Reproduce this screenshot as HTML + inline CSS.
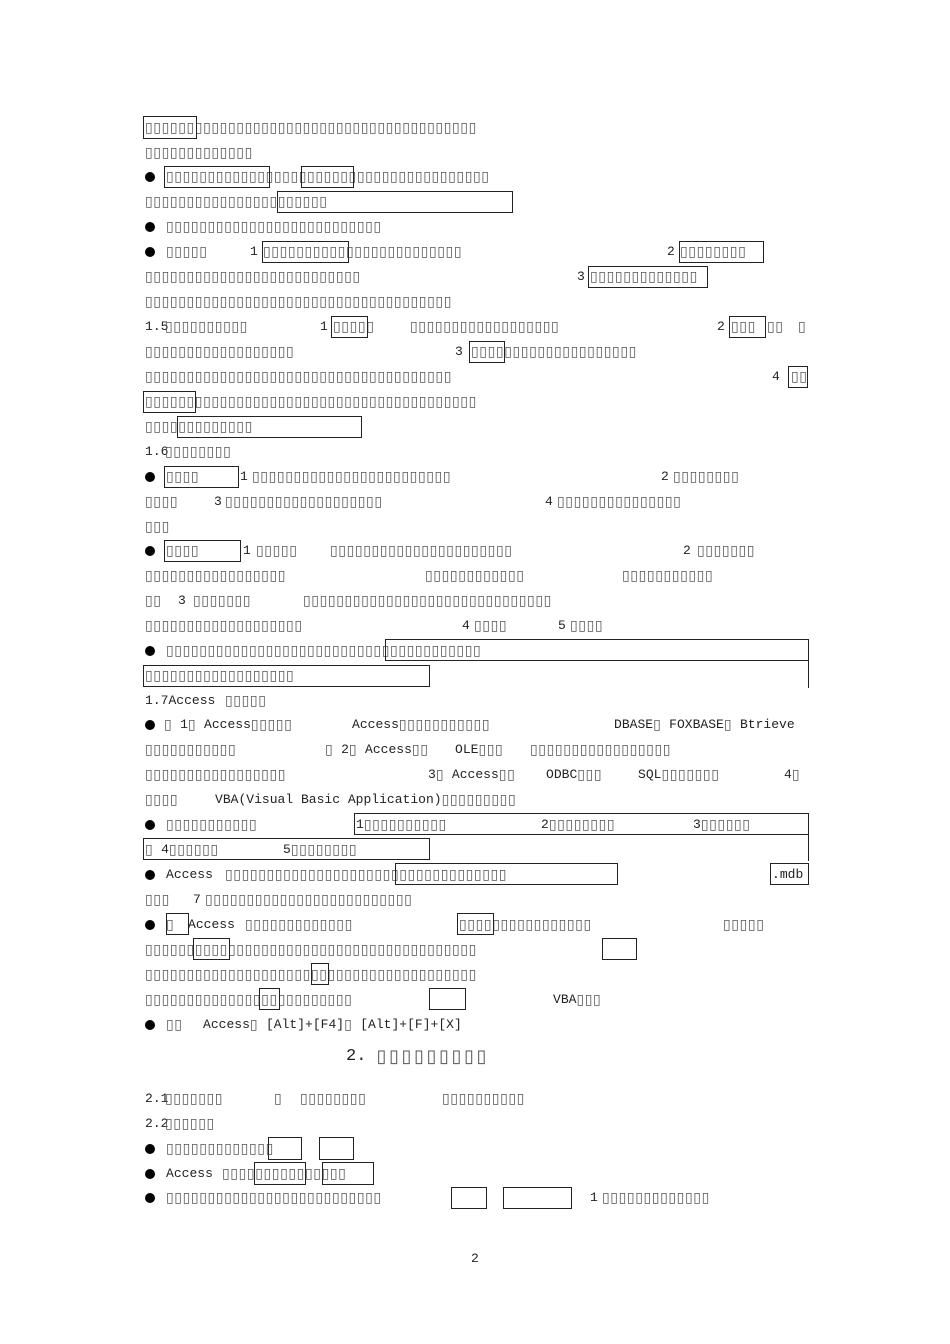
<!DOCTYPE html>
<html><head><meta charset="utf-8">
<style>
html,body{margin:0;padding:0;background:#fff}
#pg{position:relative;width:950px;height:1344px;overflow:hidden;background:#fff}
.l{position:absolute;white-space:nowrap;font-family:"Liberation Mono",monospace;font-size:13px;letter-spacing:0;color:#222;line-height:16px;height:16px}
.t{display:inline-block;width:8.3px;letter-spacing:0;font-family:"DejaVu Sans",sans-serif;font-size:14px;color:#555;text-align:left;overflow:hidden;vertical-align:top;line-height:16px}
.h{font-size:17px}
.h .t{width:12.5px;font-size:18px}
.r{position:absolute;border:1px solid #222;box-sizing:border-box}
.b{position:absolute;width:10px;height:10px;border-radius:50%;background:#000}
</style></head><body><div id="pg"></div>
<script>
var P=document.getElementById('pg');
function tofu(x1,x2,p){p=p||8.3;var n=Math.floor((x2-x1)/p)+1;return '#'.repeat(n);}
function S(x,y,s,cls){var d=document.createElement('div');d.className='l'+(cls?' '+cls:'');d.style.left=x+'px';d.style.top=(y-8)+'px';
 for(var i=0;i<s.length;i++){var c=s[i];if(c=='#'){var sp=document.createElement('span');sp.className='t';sp.textContent='\u25AF';d.appendChild(sp);}else d.appendChild(document.createTextNode(c));}
 P.appendChild(d);}
function T(x1,x2,y){S(x1,y,tofu(x1,x2));}
function R(x1,y1,x2,y2){var d=document.createElement('div');d.className='r';d.style.left=x1+'px';d.style.top=y1+'px';d.style.width=(x2-x1)+'px';d.style.height=(y2-y1)+'px';P.appendChild(d);}
function B(y){var d=document.createElement('div');d.className='b';d.style.left='145px';d.style.top=(y-5)+'px';P.appendChild(d);}
function V(x,y1,y2){var d=document.createElement('div');d.style.cssText='position:absolute;left:'+x+'px;top:'+y1+'px;width:1px;height:'+(y2-y1)+'px;background:#222';P.appendChild(d);}

T(145,475,128);R(143,116,197,139);
T(145,250,153);
B(177);T(166,482,177);R(164,166,270,188);R(301,166,354,188);
T(145,325,202);R(277,191,513,213);
B(227);T(166,380,227);
B(252);T(166,205,252);S(250,252,"1");T(263,462,252);S(667,252,"2");T(680,745,252);R(262,241,349,263);R(679,241,764,263);
T(145,356,277);S(577,277,"3");T(590,695,277);R(588,266,708,288);
T(145,450,302);
S(145,327,"1.5");T(165,243,327);S(320,327,"1");T(333,370,327);T(410,558,327);S(717,327,"2");T(731,748,327);T(767,780,327);T(798,803,327);R(331,316,368,338);R(729,316,766,338);
T(145,291,352);S(455,352,"3");T(471,636,352);R(469,341,505,363);
T(145,450,377);S(772,377,"4");T(791,803,377);R(788,366,808,388);
T(145,475,402);R(143,391,196,413);
T(145,250,427);R(177,416,362,438);
S(145,452,"1.6");T(165,230,452);
B(477);T(166,198,477);S(240,477,"1");T(252,450,477);S(661,477,"2");T(673,737,477);R(164,466,239,488);
T(145,175,502);S(214,502,"3");T(225,380,502);S(545,502,"4");T(557,678,502);
T(145,165,527);
B(551);T(166,198,551);S(243,551,"1");T(256,295,551);T(330,505,551);S(683,551,"2");T(697,755,551);R(164,540,241,562);
T(145,283,576);T(425,522,576);T(622,712,576);
T(145,158,601);S(178,601,"3");T(193,250,601);T(303,552,601);
T(145,300,626);S(462,626,"4");T(474,506,626);S(558,626,"5");T(570,602,626);
B(651);T(166,480,651);R(385,639,809,661);R(143,665,430,687);V(808,639,688);
T(145,293,676);
S(145,701,"1.7Access");T(225,263,701);
B(725);S(164,725,"# 1# Access#####");S(352,725,"Access###########");S(614,725,"DBASE# FOXBASE# Btrieve");
T(145,230,750);S(325,750,"# 2# Access##");S(455,750,"OLE###");T(530,670,750);
T(145,283,775);S(428,775,"3# Access##");S(546,775,"ODBC###");S(638,775,"SQL#######");S(784,775,"4#");
T(145,175,800);S(215,800,"VBA(Visual Basic Application)#########");
B(825);T(166,256,825);S(356,825,"1##########");S(541,825,"2########");S(693,825,"3######");R(354,813,809,835);R(143,838,430,860);V(808,813,861);
S(145,850,"# 4######");S(283,850,"5########");
B(875);S(166,875,"Access");T(225,500,875);R(395,863,618,885);S(772,875,".mdb");R(770,863,809,885);
T(145,167,900);S(193,900,"7");T(205,405,900);
B(925);T(166,172,925);S(188,925,"Access");T(245,348,925);T(459,590,925);T(723,762,925);R(166,913,189,935);R(457,913,494,935);
T(145,475,950);R(193,938,230,960);R(602,938,637,960);
T(145,475,975);R(311,963,329,985);
T(145,345,1000);R(259,988,280,1010);R(429,988,466,1010);S(553,1000,"VBA###");
B(1025);T(166,178,1025);S(203,1025,"Access# [Alt]+[F4]# [Alt]+[F]+[X]");
S(346,1057,"2. "+tofu(378,480,12.5),"h");
S(145,1099,"2.1");T(165,222,1099);T(274,278,1099);T(300,362,1099);T(442,522,1099);
S(145,1124,"2.2");T(165,212,1124);
B(1149);T(166,266,1149);R(268,1137,302,1160);R(319,1137,354,1160);
B(1174);S(166,1174,"Access");T(222,345,1174);R(254,1162,306,1185);R(322,1162,374,1185);
B(1198);T(166,376,1198);R(451,1187,487,1209);R(503,1187,572,1209);S(590,1198,"1");T(602,703,1198);
S(471,1259,"2");
</script>
</body></html>
